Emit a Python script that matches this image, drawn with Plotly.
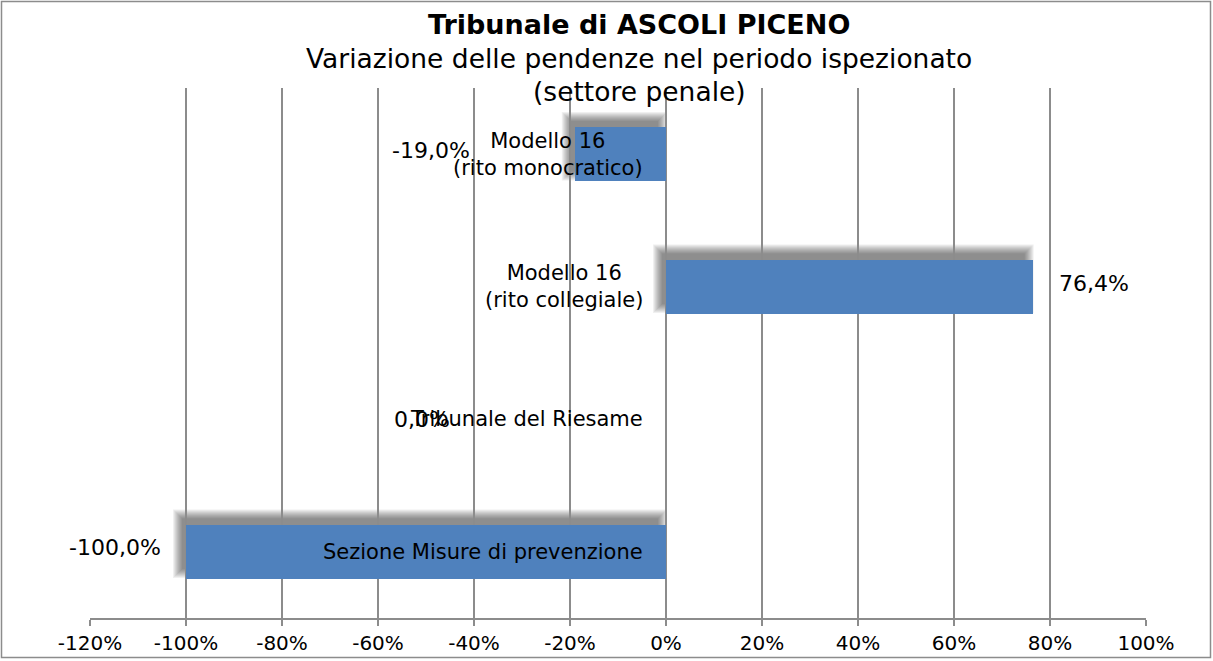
import plotly.graph_objects as go

# Data
categories = [
    "Modello 16<br>(rito monocratico)",
    "Modello 16<br>(rito collegiale)",
    "Tribunale del Riesame",
    "Sezione Misure di prevenzione",
]
variazione = [-19.0, 76.4, 0.0, -100.0]
x_ticks = [-120, -100, -80, -60, -40, -20, 0, 20, 40, 60, 80, 100]

# Layout geometry (pixels)
W, H = 1213, 661
M_L, M_R, M_T, M_B = 90, 67, 88, 43
PLOT_W = W - M_L - M_R
PLOT_H = H - M_T - M_B
X_RANGE = [-120, 100]
Y_RANGE = [len(categories) - 0.5, -0.5]
BAR_W = 0.41
FONT = "DejaVu Sans"
BAR_COLOR = "#4F81BD"
GRID = "#8c8c8c"
TITLE_CX = 639

px_x = PLOT_W / (X_RANGE[1] - X_RANGE[0])   # pixels per percentage point
px_y = PLOT_H / abs(Y_RANGE[0] - Y_RANGE[1])  # pixels per category slot

# label offsets (pixels) and anchors for the value labels
label_shift = [-103, 24, -214, -23]
label_anchor = ["right", "left", "right", "right"]
label_yshift = [4, 3, 0, 4]

fig = go.Figure()
ypos = list(range(len(categories)))
fig.add_trace(go.Bar(
    x=variazione, y=ypos, orientation="h", width=BAR_W,
    marker=dict(color=BAR_COLOR, line=dict(width=0)),
    hoverinfo="skip", showlegend=False,
))

shapes = []
# soft drop shadow behind each bar (offset up-left, blurred edge)
off_x, off_y = -6, -8
for yi, v in zip(ypos, variazione):
    if v == 0:
        continue
    x0, x1 = min(0, v), max(0, v)
    for k in range(7, -3, -1):
        shapes.append(dict(
            type="rect", xref="x", yref="y", layer="below",
            x0=x0 + (off_x - k) / px_x, x1=x1 + (off_x + k) / px_x,
            y0=yi - BAR_W / 2 + (off_y - k) / px_y,
            y1=yi + BAR_W / 2 + (off_y + k) / px_y,
            fillcolor="rgba(40,40,40,0.07)", line=dict(width=0),
        ))

# outer chart frame
shapes.append(dict(
    type="rect", xref="paper", yref="paper",
    x0=(1.5 - M_L) / PLOT_W, x1=(W - 2.5 - M_L) / PLOT_W,
    y0=-(H - 3.5 - M_T - PLOT_H) / PLOT_H,
    y1=1 + (M_T - 1.5) / PLOT_H,
    line=dict(color="#8c8c8c", width=1.5), fillcolor="rgba(0,0,0,0)", layer="above",
))

annotations = []
# category labels beside the zero line
for yi, c in zip(ypos, categories):
    annotations.append(dict(
        x=0, y=yi, xref="x", yref="y", text=c, showarrow=False,
        xanchor="right", yanchor="middle", align="center", xshift=-21,
        font=dict(family=FONT, size=21, color="#000000"),
    ))
# value labels
for yi, v, sh, an, ys in zip(ypos, variazione, label_shift, label_anchor, label_yshift):
    annotations.append(dict(
        x=v, y=yi, xref="x", yref="y",
        text=f"{v:.1f}%".replace(".", ","), showarrow=False,
        xanchor=an, yanchor="middle", xshift=sh, yshift=ys,
        font=dict(family=FONT, size=22, color="#000000"),
    ))
# title block
title_lines = [
    ("<b>Tribunale di ASCOLI PICENO</b>", 24, 27),
    ("Variazione delle pendenze nel periodo ispezionato", 58, 26.5),
    ("(settore penale)", 91, 26.5),
]
for t, ypx, fs in title_lines:
    annotations.append(dict(
        x=(TITLE_CX - M_L) / PLOT_W, y=1 + (M_T - ypx) / PLOT_H,
        xref="paper", yref="paper", text=t, showarrow=False,
        xanchor="center", yanchor="middle",
        font=dict(family=FONT, size=fs, color="#000000"),
    ))

fig.update_layout(
    width=W, height=H, autosize=False,
    margin=dict(l=M_L, r=M_R, t=M_T, b=M_B, pad=0),
    paper_bgcolor="white", plot_bgcolor="white",
    shapes=shapes, annotations=annotations,
    bargap=0,
    xaxis=dict(
        range=X_RANGE, tickvals=x_ticks,
        ticktext=[f"{t}%" for t in x_ticks],
        showgrid=True, gridcolor=GRID, gridwidth=1.5,
        zeroline=False, showline=True, linecolor=GRID, linewidth=1.5,
        ticks="outside", ticklen=6, tickcolor=GRID, tickwidth=1.5,
        tickfont=dict(family=FONT, size=20, color="#000000"),
        automargin=False, fixedrange=True,
    ),
    yaxis=dict(
        range=Y_RANGE, showgrid=False, zeroline=False, showline=False,
        showticklabels=False, ticks="", automargin=False, fixedrange=True,
    ),
)

fig.write_html("out.html")
